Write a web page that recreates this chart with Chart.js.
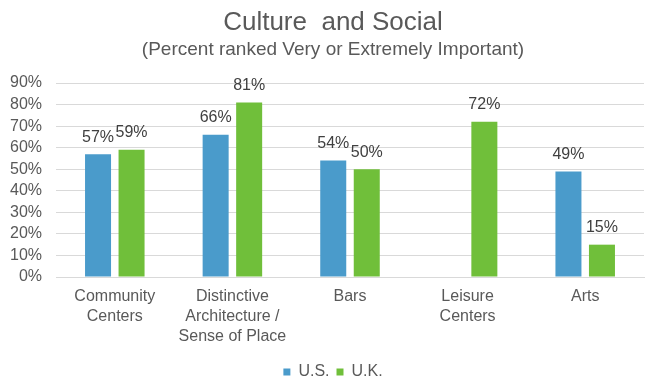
<!DOCTYPE html>
<html>
<head>
<meta charset="utf-8">
<script src="https://cdn.jsdelivr.net/npm/chart.js@4.4.1/dist/chart.umd.min.js"></script>
<style>
  html, body { margin: 0; padding: 0; background: #ffffff; }
  #wrap { width: 645px; height: 380px; position: relative; }
</style>
</head>
<body>
<div id="wrap"><canvas id="c" width="645" height="380"></canvas></div>
<script>
const categories = [
  ["Community", "Centers"],
  ["Distinctive", "Architecture /", "Sense of Place"],
  ["Bars"],
  ["Leisure", "Centers"],
  ["Arts"]
];
const seriesNames = ["U.S.", "U.K."];
const usValues = [57, 66, 54, null, 49];
const ukValues = [59, 81, 50, 72, 15];
const yTicks = [0, 10, 20, 30, 40, 50, 60, 70, 80, 90];

const FONT = "'Liberation Sans', Arial, sans-serif";
const TEXT = "#595959";

const dataLabels = {
  id: "dataLabels",
  afterDatasetsDraw(chart) {
    const ctx = chart.ctx;
    ctx.save();
    ctx.font = "16px " + FONT;
    ctx.fillStyle = "#404040";
    ctx.textAlign = "center";
    ctx.textBaseline = "middle";
    chart.data.datasets.forEach((ds, di) => {
      const meta = chart.getDatasetMeta(di);
      meta.data.forEach((el, i) => {
        const v = ds.data[i];
        if (v === null || v === undefined) return;
        ctx.fillText(v + "%", el.x, el.y - 17);
      });
    });
    ctx.restore();
  }
};

// Shift the centring box of the title, subtitle and legend to match the original layout
const centerShift = {
  id: "centerShift",
  afterLayout(chart) {
    chart.boxes.forEach(b => {
      if (!b.axis && (b.position === "top" || b.position === "bottom")) {
        b.left = 22;
      }
    });
  }
};

new Chart(document.getElementById("c"), {
  type: "bar",
  data: {
    labels: categories,
    datasets: [
      { label: seriesNames[0], data: usValues, backgroundColor: "#4A9BCB",
        categoryPercentage: 0.57, barPercentage: 0.776 },
      { label: seriesNames[1], data: ukValues, backgroundColor: "#70BF3A",
        categoryPercentage: 0.57, barPercentage: 0.776 }
    ]
  },
  options: {
    responsive: false,
    animation: false,
    layout: { padding: { left: 0, right: 1, top: 0, bottom: 0 } },
    plugins: {
      title: {
        display: true,
        text: "Culture  and Social",
        color: TEXT,
        font: { family: FONT, size: 26, weight: "normal", lineHeight: 1.2 },
        padding: { top: 7, bottom: 0 }
      },
      subtitle: {
        display: true,
        text: "(Percent ranked Very or Extremely Important)",
        color: TEXT,
        font: { family: FONT, size: 19, weight: "normal", lineHeight: 1.2 },
        padding: { top: 0, bottom: 22 }
      },
      legend: {
        display: true,
        position: "bottom",
        maxHeight: 23,
        labels: {
          color: TEXT,
          font: { family: FONT, size: 16 },
          boxWidth: 7,
          boxHeight: 7,
          padding: 7
        }
      },
      tooltip: { enabled: false }
    },
    scales: {
      x: {
        grid: { display: false, drawTicks: false },
        border: { display: true, color: "#d9d9d9", width: 1 },
        ticks: {
          color: TEXT,
          font: { family: FONT, size: 16, lineHeight: 1.25 },
          padding: 10,
          maxRotation: 0,
          autoSkip: false
        }
      },
      y: {
        min: 0,
        max: 90,
        afterBuildTicks(scale) { scale.ticks = yTicks.map(v => ({ value: v })); },
        afterFit(scale) { scale.width = 56; },
        grid: { color: "#d9d9d9", lineWidth: 1, drawTicks: false },
        border: { display: false },
        ticks: {
          color: TEXT,
          font: { family: FONT, size: 16 },
          padding: 14,
          autoSkip: false,
          callback: v => v + "%"
        }
      }
    }
  },
  plugins: [dataLabels, centerShift]
});
</script>
</body>
</html>
